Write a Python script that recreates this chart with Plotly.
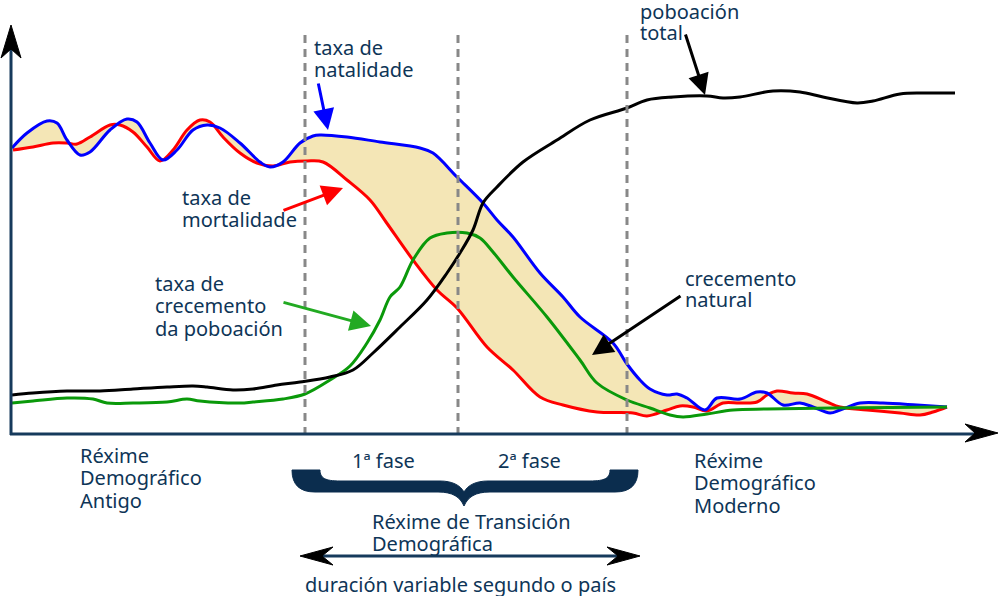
import plotly.graph_objects as go

# ---- data (x = time position, y = rate / population level) ----
birth_x = [12,27,47,57,67,80,90,110,127,137,150,163,177,193,207,220,240,260,270,283,
           300,313,320,347,380,420,433,457,483,497,513,540,563,580,613,627,640,650,667,677,
           687,705,717,740,757,767,783,800,813,830,840,860,883,917,947]
birth_y = [287,302,314,312,295,280,283,305,316,313,292,275,285,305,310,307,292,273,268,273,
           292,299,300,298,293,287,282,258,232,215,198,162,138,118,92,71,55,46,40,41,
           37,25,37,36,43,42,30,32,28,22,25,32,32,30,28]

death_x = [13,33,53,67,77,90,110,120,133,147,160,173,187,200,210,223,240,257,273,290,
           307,323,347,370,386,413,437,457,487,513,540,563,597,633,647,667,680,693,707,723,
           740,757,767,777,793,807,827,840,867,900,920,933,947]
death_y = [285,288,292,292,291,298,310,310,303,288,274,285,305,315,313,298,282,272,269,273,
           274,273,255,235,213,175,145,127,88,65,38,30,23,22,19,25,29,28,24,32,
           32,33,40,44,42,41,33,28,25,22,20,23,28]

growth_x = [12,33,67,93,107,133,167,187,200,240,253,283,305,330,350,367,380,390,400,413,
            430,447,467,480,493,513,547,580,597,627,650,670,683,707,733,767,833,947]
growth_y = [32,34,37,36,32,32,33,36,34,32,33,36,41,55,69,92,115,138,148,175,
            197,202,202,197,183,158,118,75,52,35,27,20,18,21,25,26,27,28]

pop_x = [12,33,67,100,133,167,193,207,233,253,277,300,330,353,373,400,427,447,460,473,
         483,497,523,557,590,627,647,673,707,723,740,773,800,823,857,873,900,923,955]
pop_y = [40,42,44,44,46,48,49,48,45,46,50,53,58,65,82,108,135,162,182,205,
         232,248,273,295,315,327,335,338,339,337,338,344,343,338,332,334,341,342,342]

phase_x = [305, 458, 627]

TXT = "#0e3557"
NAVY = "#163a5c"
FONT = "Noto Sans"
FS = 20

def Y(py):
    return 435 - py

fig = go.Figure()

# natural growth area between birth and death rates
fig.add_trace(go.Scatter(x=birth_x + death_x[::-1], y=birth_y + death_y[::-1],
                         fill="toself", fillcolor="#f4e6b6", mode="lines",
                         line=dict(width=0, shape="spline"), hoverinfo="skip"))
fig.add_trace(go.Scatter(x=death_x, y=death_y, mode="lines",
                         line=dict(color="#ff0000", width=3, shape="spline")))
fig.add_trace(go.Scatter(x=birth_x, y=birth_y, mode="lines",
                         line=dict(color="#0000ff", width=3, shape="spline")))
fig.add_trace(go.Scatter(x=growth_x, y=growth_y, mode="lines",
                         line=dict(color="#0a990a", width=3, shape="spline")))
fig.add_trace(go.Scatter(x=pop_x, y=pop_y, mode="lines",
                         line=dict(color="#000000", width=3, shape="spline")))

shapes = []
for px in phase_x:
    shapes.append(dict(type="line", x0=px, x1=px, y0=Y(435), y1=Y(33), xref="x", yref="y",
                       line=dict(color="#888888", width=3, dash="8px,6px"), layer="above"))

# axes
shapes.append(dict(type="line", x0=11, x1=11, y0=Y(435), y1=Y(45), line=dict(color=NAVY, width=3)))
shapes.append(dict(type="line", x0=10, x1=980, y0=Y(434), y1=Y(434), line=dict(color=NAVY, width=3)))

def poly(pts):
    s = "M " + " L ".join(f"{x},{Y(py)}" for x, py in pts) + " Z"
    return s

shapes.append(dict(type="path", path=poly([(11,25),(21,58),(11,49),(1,58)]),
                   fillcolor="#000000", line=dict(color="#000000", width=1)))
shapes.append(dict(type="path", path=poly([(998,433),(965,424),(975,433),(965,442)]),
                   fillcolor="#000000", line=dict(color="#000000", width=1)))

# brace
def bpath(segs):
    out = []
    for cmd, pts in segs:
        out.append(cmd + " " + " ".join(f"{x},{Y(py)}" for x, py in pts))
    return " ".join(out) + " Z"

brace = bpath([
    ("M", [(292,470)]), ("L", [(320,470)]),
    ("C", [(320,478),(325,481),(340,481)]), ("L", [(440,481)]),
    ("C", [(452,481),(460,485),(464,492)]),
    ("C", [(468,485),(476,481),(488,481)]), ("L", [(590,481)]),
    ("C", [(605,481),(610,478),(610,470)]), ("L", [(638,470)]),
    ("C", [(638,485),(630,492),(615,492)]), ("L", [(490,492)]),
    ("C", [(475,492),(468,497),(464,506)]),
    ("C", [(460,497),(453,492),(438,492)]), ("L", [(315,492)]),
    ("C", [(300,492),(292,485),(292,470)]),
])
shapes.append(dict(type="path", path=brace, fillcolor="#0b2d4e", line=dict(color="#0b2d4e", width=1)))

# double arrow
shapes.append(dict(type="line", x0=310, x1=630, y0=Y(556), y1=Y(556), line=dict(color=NAVY, width=3)))
shapes.append(dict(type="path", path=poly([(300,556),(333,547),(322,556),(333,565)]),
                   fillcolor="#000000", line=dict(color="#000000", width=1)))
shapes.append(dict(type="path", path=poly([(640,556),(607,547),(618,556),(607,565)]),
                   fillcolor="#000000", line=dict(color="#000000", width=1)))
for s in shapes:
    s.setdefault("xref", "x")
    s.setdefault("yref", "y")

annotations = []
labels = [
    ("poboación", 638, 11), ("total", 638, 32),
    ("taxa de", 312, 47), ("natalidade", 312, 69),
    ("taxa de", 180, 197), ("mortalidade", 180, 219),
    ("taxa de", 153, 283), ("crecemento", 153, 305), ("da poboación", 153, 328),
    ("crecemento", 683, 278), ("natural", 683, 299),
    ("Réxime", 78, 455), ("Demográfico", 78, 477), ("Antigo", 78, 500),
    ("1ª fase", 350, 460), ("2ª fase", 496, 460),
    ("Réxime", 692, 460), ("Demográfico", 692, 482), ("Moderno", 692, 505),
    ("Réxime de Transición", 370, 521), ("Demográfica", 370, 543),
    ("duración variable segundo o país", 303, 584),
]
for t, x, py in labels:
    annotations.append(dict(text=t, x=x, y=Y(py), xref="x", yref="y", showarrow=False,
                            xanchor="left", yanchor="middle",
                            font=dict(family=FONT, size=FS, color=TXT)))

pointers = [
    ((328,130), (318,82), "#0000ff"),
    ((343,188), (282,211), "#ff0000"),
    ((371,326), (282,302), "#22aa22"),
    ((705,95), (685,33), "#000000"),
    ((592,355), (682,295), "#000000"),
]
for (tx, ty), (sx, sy), c in pointers:
    annotations.append(dict(text="", x=tx, y=Y(ty), ax=sx, ay=Y(sy), xref="x", yref="y",
                            axref="x", ayref="y", showarrow=True, arrowhead=2, arrowsize=1.4,
                            arrowwidth=3, arrowcolor=c))

fig.update_layout(
    width=1000, height=596, margin=dict(l=0, r=0, t=0, b=0),
    paper_bgcolor="white", plot_bgcolor="white", showlegend=False,
    xaxis=dict(visible=False, range=[0, 1000], fixedrange=True),
    yaxis=dict(visible=False, range=[Y(596), Y(0)], fixedrange=True),
    shapes=shapes, annotations=annotations,
)
fig.write_html("out.html")
